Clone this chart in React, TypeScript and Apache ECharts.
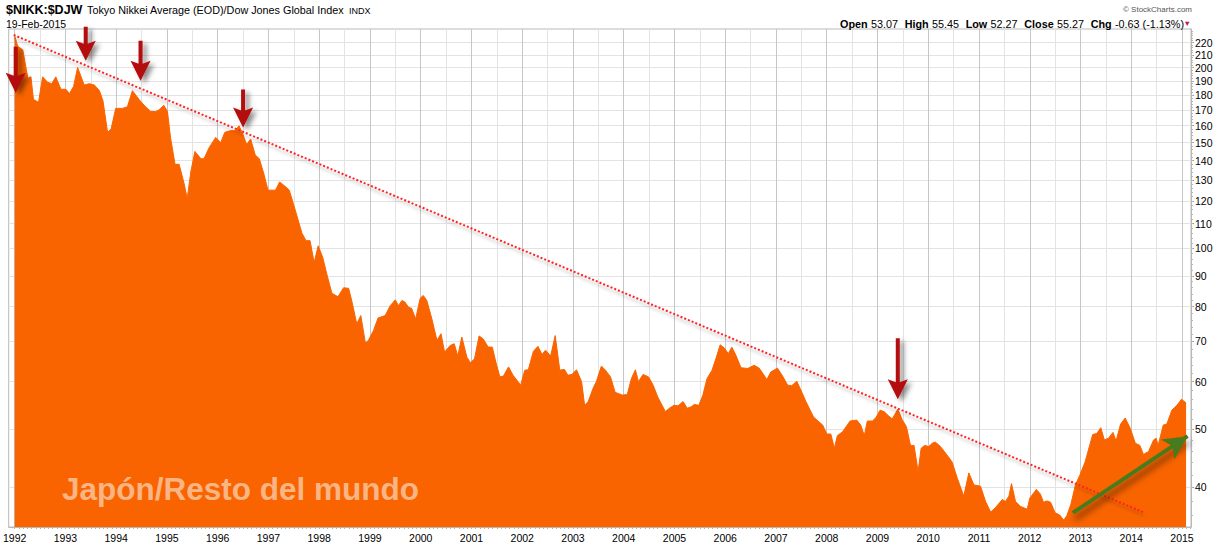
import React, { useEffect, useRef } from "react";
import * as echarts from "echarts";

// Decimal years of each traced point (weekly-ish closes of the ratio)
const dates = [
  1992.0, 1992.06, 1992.16, 1992.26, 1992.32, 1992.37, 1992.47, 1992.55, 1992.65, 1992.73, 1992.81, 1992.91,
  1993.01, 1993.08, 1993.16, 1993.24, 1993.37, 1993.47, 1993.57, 1993.67, 1993.74, 1993.83, 1993.9, 1993.99,
  1994.12, 1994.22, 1994.32, 1994.45, 1994.55, 1994.68, 1994.78, 1994.84, 1994.94,
  1995.01, 1995.07, 1995.16, 1995.24, 1995.34, 1995.4, 1995.47, 1995.55, 1995.67, 1995.73, 1995.83, 1995.96,
  1996.06, 1996.14, 1996.25, 1996.34, 1996.42, 1996.48, 1996.57, 1996.65, 1996.74, 1996.82, 1996.91, 1996.99,
  1997.14, 1997.22, 1997.32, 1997.41, 1997.5, 1997.66, 1997.74, 1997.82, 1997.9, 1997.98,
  1998.07, 1998.15, 1998.25, 1998.37, 1998.48, 1998.58, 1998.64, 1998.74, 1998.82, 1998.91, 1998.97,
  1999.07, 1999.16, 1999.3, 1999.4, 1999.5, 1999.56, 1999.63, 1999.69, 1999.76, 1999.82, 1999.9, 1999.99,
  2000.05, 2000.12, 2000.22, 2000.32, 2000.4, 2000.47, 2000.58, 2000.66, 2000.73, 2000.81, 2000.91, 2000.98,
  2001.06, 2001.15, 2001.23, 2001.33, 2001.41, 2001.48, 2001.56, 2001.63, 2001.73, 2001.82, 2001.97,
  2002.05, 2002.12, 2002.22, 2002.31, 2002.39, 2002.46, 2002.56, 2002.65, 2002.74, 2002.83, 2002.9, 2002.98,
  2003.07, 2003.17, 2003.23, 2003.3, 2003.4, 2003.46, 2003.56, 2003.64, 2003.74, 2003.83, 2003.97,
  2004.07, 2004.15, 2004.23, 2004.29, 2004.38, 2004.49, 2004.58, 2004.67, 2004.82, 2004.9, 2004.99,
  2005.07, 2005.17, 2005.25, 2005.33, 2005.39, 2005.48, 2005.56, 2005.64, 2005.74, 2005.82, 2005.9, 2005.98,
  2006.06, 2006.13, 2006.21, 2006.31, 2006.44, 2006.57, 2006.67, 2006.82, 2006.9,
  2007.03, 2007.13, 2007.23, 2007.31, 2007.41, 2007.49, 2007.59, 2007.74, 2007.92,
  2008.0, 2008.08, 2008.15, 2008.21, 2008.31, 2008.46, 2008.59, 2008.67, 2008.74, 2008.8, 2008.9, 2008.97,
  2009.05, 2009.13, 2009.21, 2009.29, 2009.4, 2009.49, 2009.57, 2009.65, 2009.72, 2009.8, 2009.86, 2009.93,
  2010.01, 2010.08, 2010.14, 2010.24, 2010.37, 2010.47, 2010.57, 2010.7, 2010.8, 2010.9,
  2011.03, 2011.13, 2011.23, 2011.32, 2011.46, 2011.52, 2011.59, 2011.64, 2011.72, 2011.82, 2011.95,
  2012.0, 2012.13, 2012.21, 2012.27, 2012.34, 2012.41, 2012.5, 2012.59, 2012.67, 2012.73, 2012.81, 2012.9, 2012.99,
  2013.09, 2013.18, 2013.24, 2013.32, 2013.4, 2013.47, 2013.55, 2013.64, 2013.7, 2013.79, 2013.88, 2013.98,
  2014.08, 2014.17, 2014.24, 2014.34, 2014.44, 2014.49, 2014.53, 2014.63, 2014.7, 2014.8, 2014.9, 2014.99,
  2015.08,
];

const ratio = [
  226, 217, 214, 192, 193, 177, 175, 193, 189, 188, 193, 184,
  184, 181, 186, 200, 187, 188, 187, 183, 176, 156, 158, 171,
  171, 172, 183, 177, 173, 169, 169, 170, 173,
  169, 153, 138, 138, 128, 121, 134, 145, 141, 141, 147, 153,
  150, 156, 157, 157, 160, 156, 149, 152, 143, 141, 133, 125,
  125, 129, 127, 125, 118, 106, 103, 103, 94.7, 101,
  96.6, 90.6, 84.2, 83.1, 86, 85.8, 81.9, 74.9, 77.3, 69.6, 70.3,
  73, 76.6, 77.3, 80.3, 82.1, 80.3, 81.9, 81.4, 79.8, 79.5, 76.3, 82.6,
  83.5, 81.9, 76.3, 70.3, 72.1, 67.2, 68.9, 69.4, 66.2, 71.2, 65.9, 64.5,
  65.5, 71.5, 70.7, 68.5, 68.5, 64.7, 61.1, 61.3, 63.5, 61.5, 59.2,
  62.7, 62.8, 67.4, 68.7, 66.6, 67.7, 66.2, 71.6, 62.7, 62.9, 61.5, 61.7,
  62.8, 60, 54.8, 55.6, 58.6, 60, 63.7, 62.7, 61.1, 57.6, 57,
  57.1, 60.7, 62.8, 60, 61.7, 61.1, 59.2, 56.6, 53.5, 54.2, 54.8,
  54.7, 55.6, 54.2, 54.5, 55, 54.8, 57, 60.7, 62.7, 65.7, 69.1, 68.3,
  66.8, 68.5, 66.4, 63.3, 63.1, 63.9, 63.2, 60.5, 62.3,
  63.2, 61.3, 59.2, 59.1, 60.1, 58.1, 55.6, 52.4, 50.8,
  49.1, 49.1, 46.5, 48.8, 49.5, 51.6, 51.8, 50.8, 48.8, 51.6, 51.6, 52.3,
  53.8, 53.5, 52.7, 52, 54, 51.8, 50.5, 47, 47, 42.5, 46.5, 47,
  46.8, 47.4, 47.6, 46.8, 45.3, 44.1, 41.5, 38.7, 42.3, 40.4,
  40.2, 37.9, 36.4, 37, 38.2, 37.9, 38.7, 40.6, 37.9, 37.2, 36.8,
  38.4, 39.7, 39, 37.8, 38, 37.8, 36.3, 36, 35.3, 35.9, 37.5, 40.4, 42,
  44.1, 47, 49, 49.2, 50.3, 48, 48.3, 49.4, 47.8, 51, 52.2, 50.2,
  47.4, 47, 45.4, 45.9, 48, 48.3, 47, 50.8, 51, 53.8, 54.8, 56.1,
  55.3,
];

const yearLabels = [
  1992, 1993, 1994, 1995, 1996, 1997, 1998, 1999, 2000, 2001, 2002, 2003,
  2004, 2005, 2006, 2007, 2008, 2009, 2010, 2011, 2012, 2013, 2014, 2015,
];
const priceLabels = [40, 50, 60, 70, 80, 90, 100, 110, 120, 130, 140, 150, 160, 170, 180, 190, 200, 210, 220];

// Annotations (data coordinates)
const sellArrows = [
  { t: 1992.02, v: 181.6, shaft: 26 },
  { t: 1993.4, v: 205.2, shaft: 14 },
  { t: 1994.48, v: 190.1, shaft: 20 },
  { t: 1996.5, v: 158.9, shaft: 18 },
  { t: 2009.4, v: 56.1, shaft: 41 },
];
const trendStart = [1991.98, 226.6];
const trendEnd = [2014.23, 36.4];
const upStart = [2012.85, 36.3];
const upEnd = [2015.11, 48.7];

const X_MIN = 1991.882;
const X_MAX = 2015.177;
const Y_MIN = 34.38;
const Y_MAX = 231.8;

const FONT = "Liberation Sans";
const ORANGE = "#f96400";

const halfYears: number[] = [];
yearLabels.forEach((y) => {
  halfYears.push(y);
  halfYears.push(y + 0.5);
});
const months: number[] = [];
for (let y = 1992; y <= 2015; y++) for (let m = 0; m < 12; m++) months.push(y + m / 12);
const minorPrices: number[] = [];
for (let p = 36; p <= 230; p += 2) minorPrices.push(p);

function arrowPath(s: number) {
  return `path://M8,0L12,0L12,${s + 3}L20,${s}L10,${s + 20}L0,${s}L8,${s + 3}Z`;
}

export default function App() {
  const ref = useRef<HTMLDivElement>(null);
  useEffect(() => {
    if (!ref.current) return;
    const chart = echarts.init(ref.current, undefined, { renderer: "svg" });
    const option: any = {
      animation: false,
      backgroundColor: "#ffffff",
      textStyle: { fontFamily: FONT },
      grid: { left: 6, right: 30, top: 29, bottom: 14, show: true, borderColor: "#b9b9b9", borderWidth: 1 },
      xAxis: [
        {
          type: "value",
          min: X_MIN,
          max: X_MAX,
          position: "bottom",
          axisLine: { show: true, lineStyle: { color: "#b9b9b9" } },
          axisTick: { show: false, customValues: halfYears },
          axisLabel: {
            customValues: yearLabels,
            formatter: (v: number) => String(Math.round(v)),
            color: "#000",
            fontSize: 10.5,
            fontFamily: FONT,
            margin: 5,
            hideOverlap: false,
          },
          splitLine: { show: true, lineStyle: { color: ["#c6c6c6", "#e3e3e3"], width: 1 } },
        },
        {
          type: "value",
          min: X_MIN,
          max: X_MAX,
          position: "bottom",
          axisLine: { show: false },
          axisTick: { show: true, customValues: months, length: 2, lineStyle: { color: "#b5b5b5" } },
          axisLabel: { show: false },
          splitLine: { show: false },
        },
      ],
      yAxis: [
        {
          type: "log",
          logBase: 10,
          min: Y_MIN,
          max: Y_MAX,
          position: "right",
          axisLine: { show: true, lineStyle: { color: "#b9b9b9" } },
          axisTick: { show: true, customValues: priceLabels, length: 3, lineStyle: { color: "#9a9a9a" } },
          axisLabel: {
            customValues: priceLabels,
            color: "#000",
            fontSize: 10.5,
            fontFamily: FONT,
            margin: 4,
            hideOverlap: false,
          },
          splitLine: { show: true, lineStyle: { color: "#e3e3e3" } },
        },
        {
          type: "log",
          logBase: 10,
          min: Y_MIN,
          max: Y_MAX,
          position: "right",
          axisLine: { show: false },
          axisTick: { show: true, customValues: minorPrices, length: 2, lineStyle: { color: "#b5b5b5" } },
          axisLabel: { show: false },
          splitLine: { show: false },
        },
      ],
      series: [
        {
          type: "line",
          name: "$NIKK:$DJW",
          xAxisIndex: 0,
          yAxisIndex: 0,
          data: dates.map((d, i) => [d, ratio[i]]),
          showSymbol: false,
          symbol: "none",
          lineStyle: { width: 1, color: ORANGE },
          itemStyle: { color: ORANGE },
          areaStyle: { color: ORANGE, opacity: 1, origin: "start" },
          markLine: {
            silent: true,
            animation: false,
            label: { show: false },
            symbol: ["none", "none"],
            data: [
              [
                {
                  coord: trendStart,
                  symbol: "none",
                  lineStyle: {
                    color: "#ff2222",
                    type: "dotted",
                    width: 2,
                    shadowColor: "rgba(0,0,0,0.3)",
                    shadowBlur: 3,
                    shadowOffsetY: 3,
                  },
                },
                { coord: trendEnd, symbol: "none" },
              ],
              [
                {
                  coord: upStart,
                  symbol: "none",
                  lineStyle: {
                    color: "#4a7a1e",
                    type: "solid",
                    width: 4,
                    shadowColor: "rgba(0,0,0,0.5)",
                    shadowBlur: 6,
                    shadowOffsetX: 2,
                    shadowOffsetY: 6,
                  },
                },
                { coord: upEnd, symbol: "arrow", symbolSize: [18, 24] },
              ],
            ],
          },
          markPoint: {
            silent: true,
            animation: false,
            label: { show: false },
            data: sellArrows.map((a) => ({
              coord: [a.t, a.v],
              symbol: arrowPath(a.shaft),
              symbolSize: [20, a.shaft + 20],
              symbolOffset: [0, "-50%"],
              itemStyle: {
                color: "#b40a0a",
                shadowColor: "rgba(0,0,0,0.45)",
                shadowBlur: 5,
                shadowOffsetX: 4,
                shadowOffsetY: 3,
              },
            })),
          },
        },
      ],
      graphic: [
        {
          type: "text",
          z: 100,
          x: 6,
          y: 10,
          style: { text: "$NIKK:$DJW", font: `bold 12.5px '${FONT}'`, fill: "#000", verticalAlign: "middle" },
        },
        {
          type: "text",
          z: 100,
          x: 87,
          y: 10,
          style: {
            text: "Tokyo Nikkei Average (EOD)/Dow Jones Global Index",
            font: `10.8px '${FONT}'`,
            fill: "#000",
            verticalAlign: "middle",
          },
        },
        {
          type: "text",
          z: 100,
          x: 349,
          y: 11,
          style: { text: "INDX", font: `9px '${FONT}'`, fill: "#000", verticalAlign: "middle" },
        },
        {
          type: "text",
          z: 100,
          x: 6,
          y: 23.5,
          style: { text: "19-Feb-2015", font: `10.5px '${FONT}'`, fill: "#000", verticalAlign: "middle" },
        },
        {
          type: "text",
          z: 100,
          x: 1192,
          y: 9,
          style: {
            text: "© StockCharts.com",
            font: `8px '${FONT}'`,
            fill: "#555",
            align: "right",
            verticalAlign: "middle",
          },
        },
        {
          type: "text",
          z: 100,
          x: 1184,
          y: 23.5,
          style: {
            text:
              "{b|Open} {r|53.07}  {b|High} {r|55.45}  {b|Low} {r|52.27}  {b|Close} {r|55.27}  {b|Chg} {r|-0.63 (-1.13%)}",
            align: "right",
            verticalAlign: "middle",
            fill: "#000",
            rich: {
              b: { fontFamily: FONT, fontWeight: "bold", fontSize: 10.8, fill: "#000" },
              r: { fontFamily: FONT, fontSize: 10.8, fill: "#000" },
            },
          },
        },
        {
          type: "text",
          z: 100,
          x: 1191,
          y: 23.5,
          style: { text: "▼", font: `7.5px '${FONT}'`, fill: "#c4174f", align: "right", verticalAlign: "middle" },
        },
        {
          type: "text",
          z: 100,
          x: 62,
          y: 488.5,
          style: {
            text: "Japón/Resto del mundo",
            font: `bold 31.5px '${FONT}'`,
            fill: "#f9b584",
            verticalAlign: "middle",
          },
        },
      ],
    };
    chart.setOption(option);
    return () => chart.dispose();
  }, []);
  return (
    <div
      ref={ref}
      style={{ position: "absolute", left: 0, top: 0, width: 1221, height: 543, background: "#fff" }}
    />
  );
}
